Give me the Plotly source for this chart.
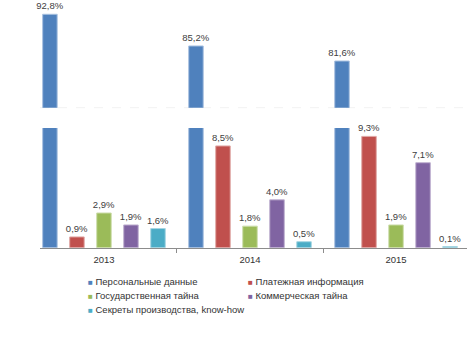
import plotly.graph_objects as go

years = ["2013", "2014", "2015"]
series_names = [
    "Персональные данные",
    "Платежная информация",
    "Государственная тайна",
    "Коммерческая тайна",
    "Секреты производства, know-how",
]
personal = [92.8, 85.2, 81.6]
payment = [0.9, 8.5, 9.3]
state_secret = [2.9, 1.8, 1.9]
commercial = [1.9, 4.0, 7.1]
know_how = [1.6, 0.5, 0.1]

values = [personal, payment, state_secret, commercial, know_how]
colors = ["#4F81BD", "#C0504D", "#9BBB59", "#8064A2", "#4BACC6"]
edges = ["#A9C1E0", "#E0A8A6", "#CDDDAC", "#BFB1D0", "#A5D5E2"]

W, H = 467, 351
fig = go.Figure()

label_font = dict(family="Liberation Sans, Arial", size=9.5, color="#404040")

for i, (name, vals) in enumerate(zip(series_names, values)):
    # bottom (0-10) panel
    fig.add_trace(go.Bar(
        x=years, y=vals, name=name, xaxis="x", yaxis="y",
        marker=dict(color=colors[i], line=dict(color=edges[i], width=1)),
        texttemplate=None if i == 0 else "%{y:.1f}%",
        textposition="outside", textfont=label_font, cliponaxis=False,
        constraintext="none",
        showlegend=False, hoverinfo="skip",
    ))
for i, (name, vals) in enumerate(zip(series_names, values)):
    # top (broken) panel
    fig.add_trace(go.Bar(
        x=years, y=vals, name=name, xaxis="x2", yaxis="y2",
        marker=dict(color=colors[i], line=dict(color=edges[i], width=1)),
        texttemplate="%{y:.1f}%" if i == 0 else None,
        textposition="outside", textfont=label_font, cliponaxis=False,
        constraintext="none",
        showlegend=False, hoverinfo="skip",
    ))

def py(px):
    return 1 - px / H

xr = [-0.438, 2.486]
fig.update_layout(
    width=W, height=H,
    margin=dict(l=40, r=0, t=0, b=0),
    paper_bgcolor="white", plot_bgcolor="white",
    separators=", ",
    barmode="group", bargap=0.075, bargroupgap=0.463,
    xaxis=dict(domain=[0, 1], anchor="y", type="category", range=xr,
               showline=True, linecolor="#8C8C8C", linewidth=1,
               ticks="outside", tickson="boundaries", ticklen=4, tickcolor="#8C8C8C",
               ticklabelstandoff=3,
               tickfont=dict(family="Liberation Sans, Arial", size=9.5, color="#333333"),
               showgrid=False, zeroline=False, fixedrange=True),
    yaxis=dict(domain=[py(247.7), py(128)], range=[0, 10], visible=False,
               showgrid=False, zeroline=False),
    xaxis2=dict(domain=[0, 1], anchor="y2", type="category", range=xr,
                matches="x", visible=False),
    yaxis2=dict(domain=[py(107.7), 1], range=[70.4, 70.4 + 107.7 / 4.17],
                visible=False, showgrid=False, zeroline=False),
)

# faint break line at the bottom of the upper panel
fig.add_shape(type="line", xref="paper", yref="paper",
              x0=0, x1=1, y0=py(107.7), y1=py(107.7),
              line=dict(color="#F2F2F2", width=1, dash="dash"), layer="below")

# legend drawn as text rows (two columns)
leg_pos = [(86, 281), (246, 281), (86, 295), (246, 295), (86, 309)]
for name, col, (lx, ly) in zip(series_names, colors, leg_pos):
    fig.add_annotation(
        xref="paper", yref="paper",
        x=(lx - 40) / (W - 40), y=py(ly), xanchor="left", yanchor="middle",
        text=f'<span style="color:{col};font-size:8px">■</span> {name}',
        showarrow=False,
        font=dict(family="Liberation Sans, Arial", size=9.5, color="#333333"),
    )

fig.write_html("out.html")
